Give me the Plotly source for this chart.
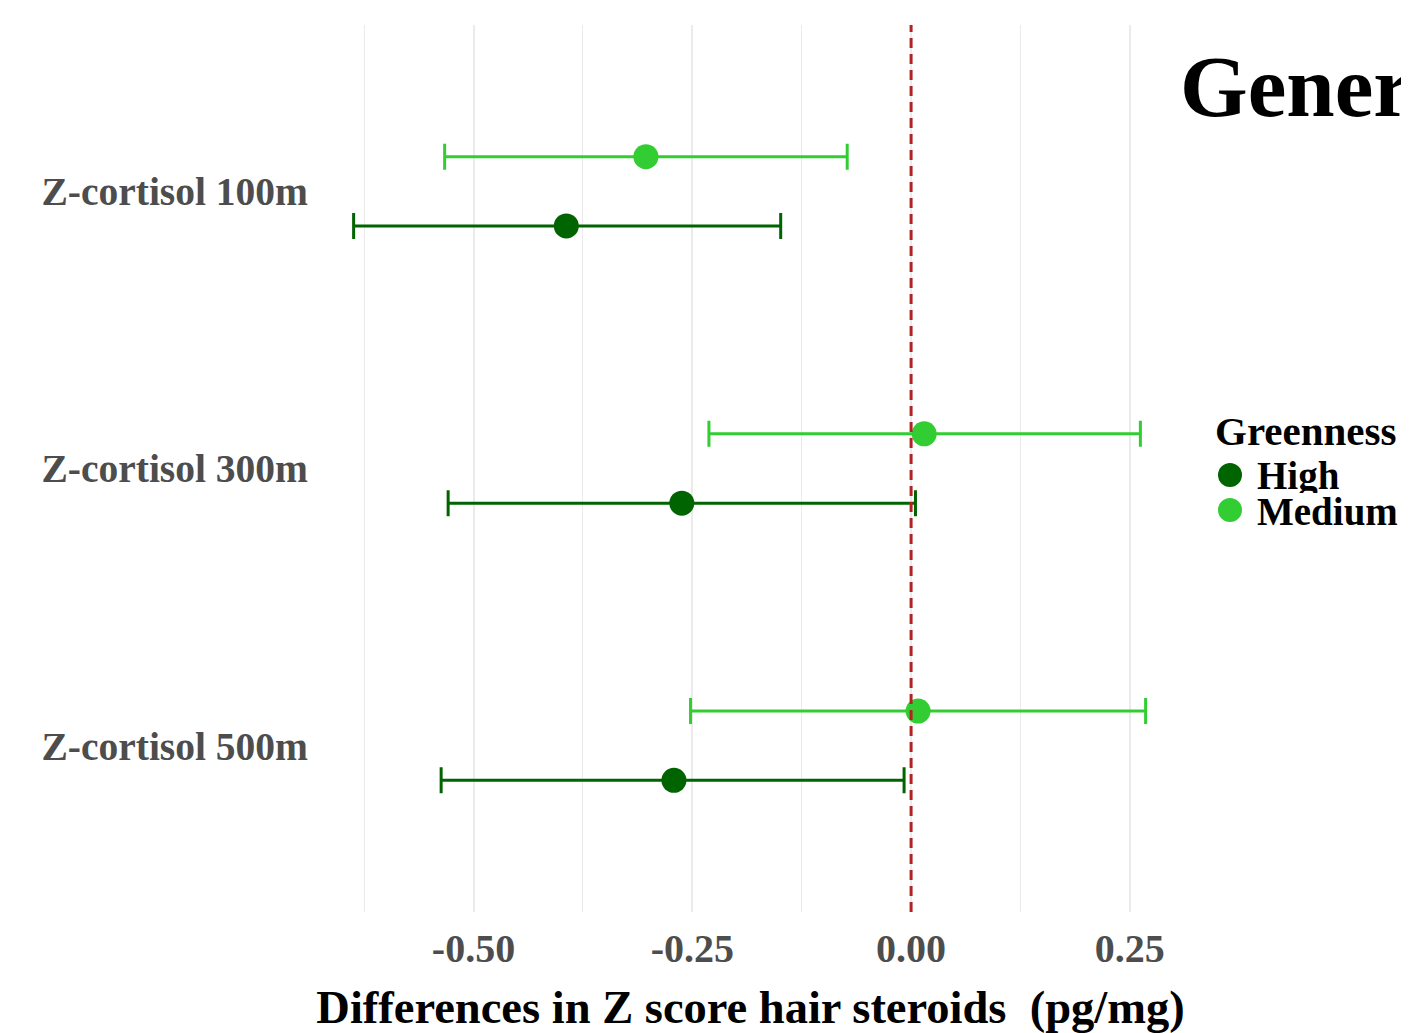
import plotly.graph_objects as go

categories = ["Z-cortisol 100m", "Z-cortisol 300m", "Z-cortisol 500m"]
groups = ["High", "Medium"]
colors = {"High": "#006400", "Medium": "#32CD32"}

est = {
    "High":   [-0.394, -0.262, -0.271],
    "Medium": [-0.303, 0.015, 0.008],
}
lower = {
    "High":   [-0.637, -0.529, -0.537],
    "Medium": [-0.533, -0.231, -0.252],
}
upper = {
    "High":   [-0.149, 0.005, -0.008],
    "Medium": [-0.073, 0.262, 0.268],
}

x_ticks = [-0.50, -0.25, 0.00, 0.25]
x_ticktext = ["-0.50", "-0.25", "0.00", "0.25"]
legend_title = "Greenness"

# page body has an 8px margin; figure sized so it ends exactly at the window edge
OFF = 8
W, H = 1409 - OFF, 1033 - OFF
ML, MT = 316 - OFF, 25 - OFF
MR = W - (1185 - OFF)
MB = H - (912 - OFF)
PW, PH = W - ML - MR, H - MT - MB
FONT = "Liberation Serif"
dodge = {"High": 0.125, "Medium": -0.125}


def px_x(x):  # container fraction from screen px
    return (x - OFF) / W


def px_y(y):
    return 1 - (y - OFF) / H


def fx(p):  # paper fraction from screen px
    return (p - OFF - ML) / PW


def fy(p):
    return 1 - (p - OFF - MT) / PH


fig = go.Figure()

# zero reference line
fig.add_shape(type="line", xref="x", yref="paper", x0=0, x1=0, y0=0, y1=1,
              line=dict(color="#B22222", width=3, dash="10px,6px"), layer="above")

for g in groups:
    ys = [i + dodge[g] for i in range(len(categories))]
    fig.add_trace(go.Scatter(
        x=est[g], y=ys, mode="markers", name=g, showlegend=False,
        marker=dict(color=colors[g], size=25, line=dict(width=0)),
        error_x=dict(type="data", symmetric=False,
                     array=[u - e for u, e in zip(upper[g], est[g])],
                     arrayminus=[e - l for e, l in zip(est[g], lower[g])],
                     color=colors[g], thickness=3, width=13),
    ))

# legend (drawn manually to match the compact key layout)
fig.add_annotation(text=legend_title, xref="paper", yref="paper",
                   x=fx(1213), y=fy(431),
                   xanchor="left", yanchor="middle", showarrow=False,
                   font=dict(family=FONT, size=41, weight="bold", color="black"))
for i, g in enumerate(groups):
    cy = [475, 510][i]
    fig.add_shape(type="circle", xref="paper", yref="paper",
                  x0=fx(1230) - 12 / PW, x1=fx(1230) + 12 / PW,
                  y0=fy(cy) - 12 / PH, y1=fy(cy) + 12 / PH,
                  fillcolor=colors[g], line=dict(width=0), layer="above")
    fig.add_annotation(text=g, xref="paper", yref="paper", x=fx(1255), y=fy(cy + 1),
                       xanchor="left", yanchor="middle", showarrow=False, height=34,
                       font=dict(family=FONT, size=39, weight="bold", color="black"))

fig.update_layout(
    width=W, height=H,
    margin=dict(l=ML, r=MR, t=MT, b=MB),
    paper_bgcolor="white", plot_bgcolor="white",
    font=dict(family=FONT, color="black"),
    showlegend=False,
    title=dict(text="General", x=px_x(1180), xanchor="left", xref="container",
               y=px_y(116), yanchor="bottom", yref="container",
               font=dict(family=FONT, size=87, weight="bold", color="black")),
    xaxis=dict(range=[-0.68, 0.313], tickvals=x_ticks, ticktext=x_ticktext,
               automargin=False,
               showgrid=True, gridcolor="#EBEBEB", gridwidth=1.5,
               minor=dict(tickvals=[-0.625, -0.375, -0.125, 0.125], showgrid=True,
                          gridcolor="#EBEBEB", gridwidth=1),
               zeroline=False, showline=False, ticks="outside", ticklen=1,
               tickcolor="rgba(0,0,0,0)",
               tickfont=dict(family=FONT, size=40, weight="bold", color="#4D4D4D"),
               title=dict(text="Differences in Z score hair steroids  (pg/mg)",
                          font=dict(family=FONT, size=46.5, weight="bold", color="black"),
                          standoff=32)),
    yaxis=dict(range=[2.6, -0.6], tickvals=list(range(len(categories))), ticktext=categories,
               automargin=False,
               showgrid=False, zeroline=False, showline=False, ticks="",
               ticklabelstandoff=7,
               tickfont=dict(family=FONT, size=39.5, weight="bold", color="#4D4D4D")),
)

fig.write_html("out.html")
